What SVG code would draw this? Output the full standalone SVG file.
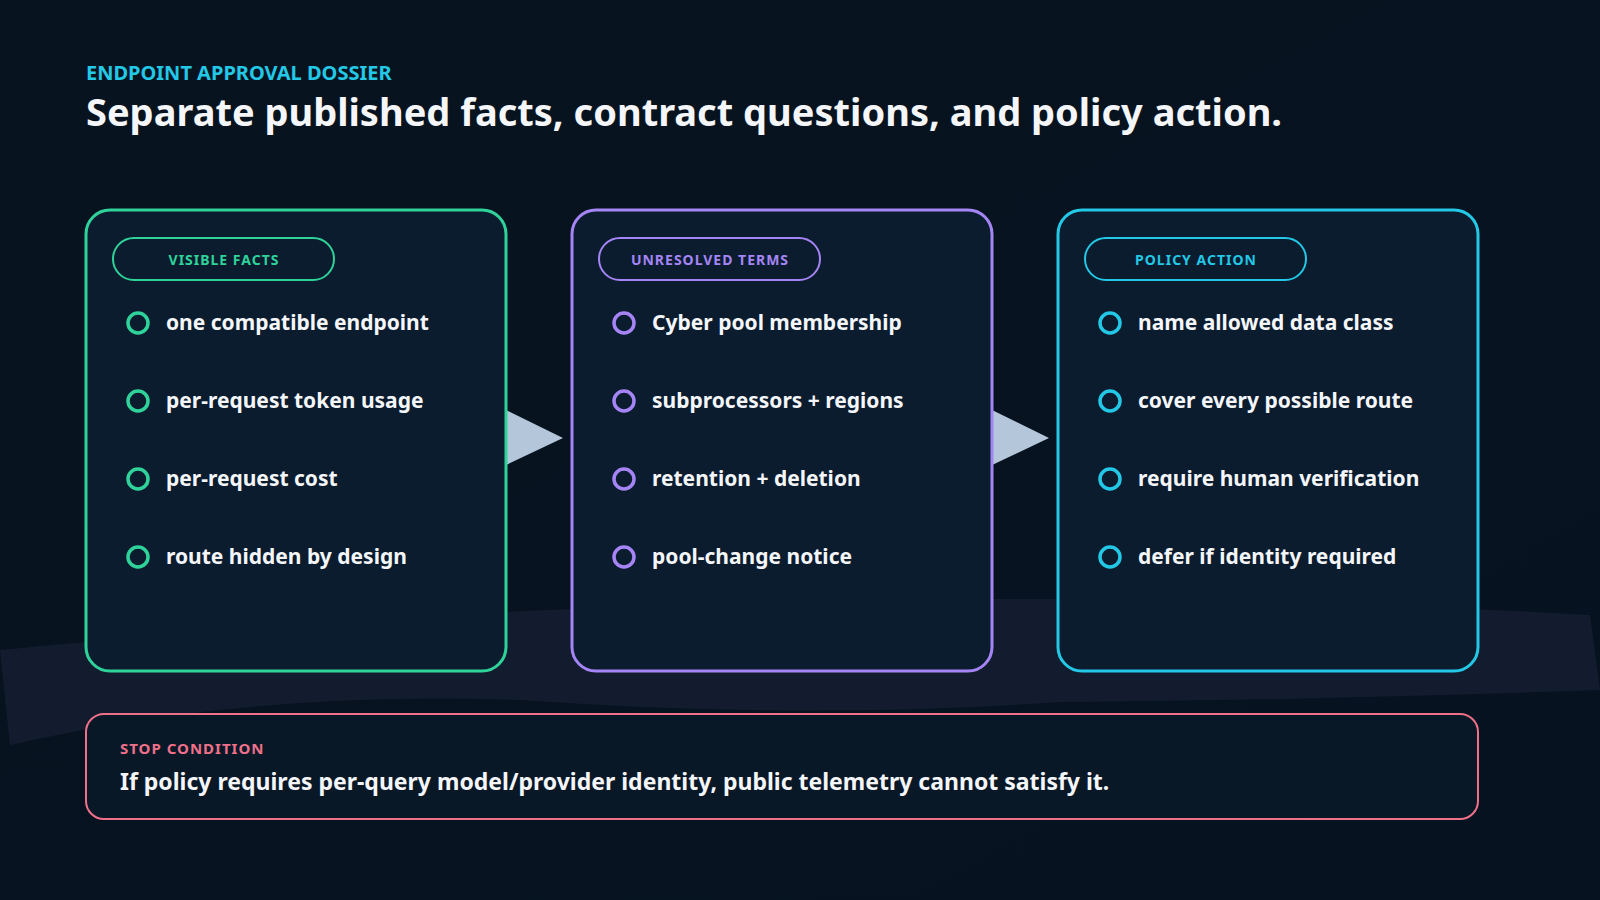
<svg xmlns="http://www.w3.org/2000/svg" width="1600" height="900" viewBox="0 0 1600 900">
<defs>
<linearGradient id="bg" x1="0" y1="0" x2="1" y2="1"><stop offset="0" stop-color="#07141f"/><stop offset="1" stop-color="#061220"/></linearGradient>
<style>
text{font-family:"Noto Sans","Open Sans",sans-serif}
.card{fill:#0b1c2f;stroke-width:3}
.pill{fill:none;stroke-width:2}
.pt{font-size:14px;font-weight:700;letter-spacing:1px;text-anchor:middle}
.item{fill:#f4f6fa;font-size:21px;font-weight:700}
.dot{fill:none;stroke-width:3.5}
.g{stroke:#2fd39a}.p{stroke:#a585f5}.c{stroke:#22c8e6}
.gt{fill:#2fd39a}.ptx{fill:#a585f5}.ct{fill:#22c8e6}
</style>
</defs>
<rect width="1600" height="900" fill="url(#bg)"/>
<path d="M0 650 Q800 570 1590 615 L1600 690 Q1320 700 1060 702 Q800 720 520 700 Q250 690 10 745 Z" fill="#121c2e"/>
<text x="86" y="80" font-size="20" font-weight="700" fill="#22c8e6">ENDPOINT APPROVAL DOSSIER</text>
<text x="86" y="126" font-size="38" font-weight="700" fill="#f4f6fa">Separate published facts, contract questions, and policy action.</text>
<g id="connectors" fill="#b4c6da">
<polygon points="504,409 563,438 504,466"/>
<polygon points="990,409 1049,438 990,466"/>
</g>
<g id="card-facts">
<rect class="card g" x="86" y="210" width="420" height="461" rx="24"/>
<rect class="pill g" x="113" y="238" width="221" height="42" rx="21"/>
<text class="pt gt" x="224" y="265">VISIBLE FACTS</text>
<circle class="dot g" cx="138" cy="323" r="10"/><text class="item" x="166" y="330">one compatible endpoint</text>
<circle class="dot g" cx="138" cy="401" r="10"/><text class="item" x="166" y="408">per-request token usage</text>
<circle class="dot g" cx="138" cy="479" r="10"/><text class="item" x="166" y="486">per-request cost</text>
<circle class="dot g" cx="138" cy="557" r="10"/><text class="item" x="166" y="564">route hidden by design</text>
</g>
<g id="card-terms">
<rect class="card p" x="572" y="210" width="420" height="461" rx="24"/>
<rect class="pill p" x="599" y="238" width="221" height="42" rx="21"/>
<text class="pt ptx" x="710" y="265">UNRESOLVED TERMS</text>
<circle class="dot p" cx="624" cy="323" r="10"/><text class="item" x="652" y="330">Cyber pool membership</text>
<circle class="dot p" cx="624" cy="401" r="10"/><text class="item" x="652" y="408">subprocessors + regions</text>
<circle class="dot p" cx="624" cy="479" r="10"/><text class="item" x="652" y="486">retention + deletion</text>
<circle class="dot p" cx="624" cy="557" r="10"/><text class="item" x="652" y="564">pool-change notice</text>
</g>
<g id="card-action">
<rect class="card c" x="1058" y="210" width="420" height="461" rx="24"/>
<rect class="pill c" x="1085" y="238" width="221" height="42" rx="21"/>
<text class="pt ct" x="1196" y="265">POLICY ACTION</text>
<circle class="dot c" cx="1110" cy="323" r="10"/><text class="item" x="1138" y="330">name allowed data class</text>
<circle class="dot c" cx="1110" cy="401" r="10"/><text class="item" x="1138" y="408">cover every possible route</text>
<circle class="dot c" cx="1110" cy="479" r="10"/><text class="item" x="1138" y="486">require human verification</text>
<circle class="dot c" cx="1110" cy="557" r="10"/><text class="item" x="1138" y="564">defer if identity required</text>
</g>
<g id="stop">
<rect x="86" y="714" width="1392" height="105" rx="18" fill="#091827" stroke="#f0708a" stroke-width="2"/>
<text x="120" y="754" font-size="15" font-weight="700" letter-spacing="1" fill="#f0708a">STOP CONDITION</text>
<text x="120" y="790" font-size="23" font-weight="700" fill="#f4f6fa">If policy requires per-query model/provider identity, public telemetry cannot satisfy it.</text>
</g>
</svg>
